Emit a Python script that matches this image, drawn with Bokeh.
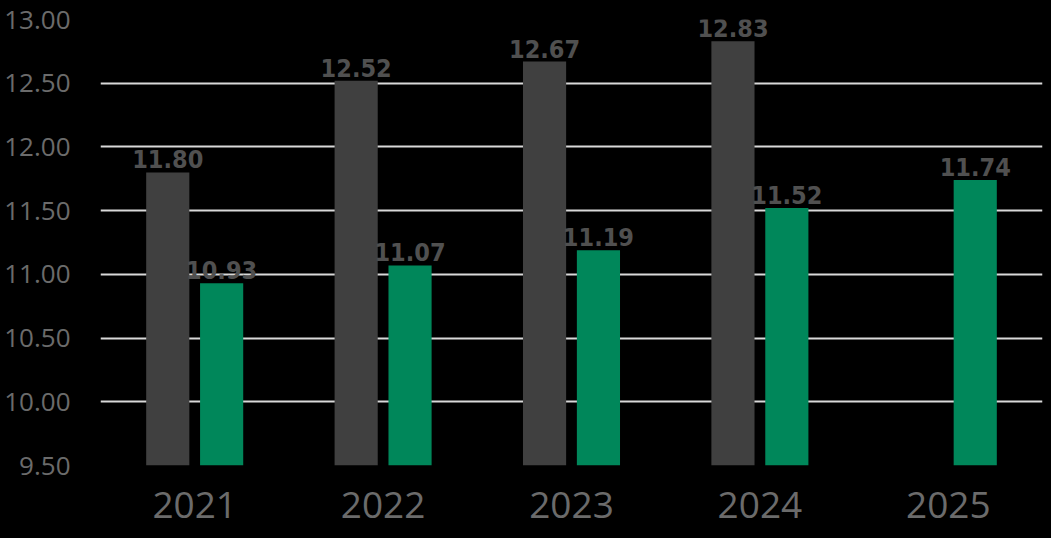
from bokeh.plotting import figure
from bokeh.models import Range1d, ColumnDataSource, FixedTicker, NumeralTickFormatter
from bokeh.transform import dodge
from bokeh.core.properties import value
from bokeh.embed import file_html
from bokeh.resources import INLINE

years = ["2021", "2022", "2023", "2024", "2025"]
gray_years = ["2021", "2022", "2023", "2024"]
gray_values = [11.80, 12.52, 12.67, 12.83]
green_years = ["2021", "2022", "2023", "2024", "2025"]
green_values = [10.93, 11.07, 11.19, 11.52, 11.74]
y_ticks = [9.5, 10.0, 10.5, 11.0, 11.5, 12.0, 12.5, 13.0]

GRAY = "#404040"
GREEN = "#00875a"
BASE = 9.5

p = figure(x_range=years, y_range=Range1d(9.5, 13.0), width=1043, height=530,
           output_backend="svg", toolbar_location=None,
           background_fill_color=None, border_fill_color=None,
           min_border_left=100, min_border_right=1, min_border_top=19, min_border_bottom=65)
p.outline_line_color = None
p.styles = {"background-color": "black"}

gsrc = ColumnDataSource(dict(x=gray_years, top=gray_values,
                             label=["%.2f" % v for v in gray_values],
                             bottom=[BASE] * len(gray_values)))
nsrc = ColumnDataSource(dict(x=green_years, top=green_values,
                             label=["%.2f" % v for v in green_values],
                             bottom=[BASE] * len(green_values)))

p.vbar(x=dodge("x", -0.143, range=p.x_range), top="top", bottom="bottom", width=0.229,
       source=gsrc, fill_color=GRAY, line_color=None)
p.vbar(x=dodge("x", 0.143, range=p.x_range), top="top", bottom="bottom", width=0.229,
       source=nsrc, fill_color=GREEN, line_color=None)

for src, off in ((gsrc, -0.143), (nsrc, 0.143)):
    p.text(x=dodge("x", off, range=p.x_range), y="top", text="label", source=src,
           text_align="center", text_baseline="bottom", y_offset=-4,
           text_font=value("DejaVu Sans Condensed"), text_font_style="bold",
           text_font_size="25px", text_color="#505050")

p.xgrid.grid_line_color = None
p.ygrid.grid_line_color = "#d9d9d9"
p.ygrid.grid_line_width = 2
p.ygrid.ticker = FixedTicker(ticks=y_ticks)

p.yaxis.ticker = FixedTicker(ticks=y_ticks)
p.yaxis.formatter = NumeralTickFormatter(format="0.00")
p.yaxis.axis_line_color = None
p.yaxis.major_tick_line_color = None
p.yaxis.minor_tick_line_color = None
p.yaxis.major_label_standoff = 24
p.yaxis.major_label_text_font = "Open Sans"
p.yaxis.major_label_text_font_size = "26px"
p.yaxis.major_label_text_color = "#6b6b6b"

p.xaxis.axis_line_color = None
p.xaxis.major_tick_line_color = None
p.xaxis.major_label_standoff = 20
p.xaxis.major_label_text_font = "Open Sans"
p.xaxis.major_label_text_font_size = "37px"
p.xaxis.major_label_text_color = "#6b6b6b"

p.x_range.range_padding = 0

html = file_html(p, INLINE)
html = html.replace("</head>", "<style>html, body { background-color: #000000; }</style></head>", 1)
open("out.html", "w").write(html)
